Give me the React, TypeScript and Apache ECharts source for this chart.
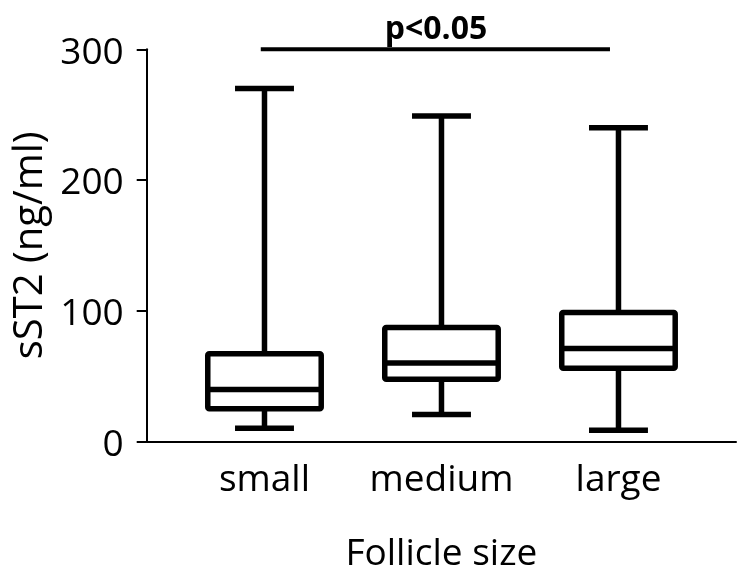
import React, { useEffect, useRef } from "react";
import * as echarts from "echarts";

const categories = ["small", "medium", "large"];
const mins = [10, 20.5, 8.5];
const q1s = [25, 47.5, 56];
const medians = [39.6, 60, 71];
const q3s = [67, 87, 98.5];
const maxs = [270, 249, 240];
const yTicks = [0, 100, 200, 300];
const sigFrom = 0.979;
const sigTo = 2.952;
const sigLevel = 300;
const sigText = "p<0.05";

const FONT = "'Open Sans', 'Noto Sans', sans-serif";

export default function App() {
  const ref = useRef<HTMLDivElement>(null);
  useEffect(() => {
    if (!ref.current) return;
    const chart = echarts.init(ref.current, undefined, { renderer: "svg" });
    const boxData = categories.map((_, i) => [i + 1, mins[i], q1s[i], medians[i], q3s[i], maxs[i]]);
    const BOX_W = 0.641;
    const CAP_W = 0.333;
    const LW = 5.5;
    chart.setOption({
      animation: false,
      textStyle: { fontFamily: FONT, color: "#000" },
      grid: { left: 146.7, right: 10, top: 49.3, bottom: 134.7, containLabel: false, outerBoundsMode: "none" },
      xAxis: {
        type: "value",
        min: 0.3345,
        max: 3.664,
        name: "Follicle size",
        nameLocation: "middle",
        nameGap: 91,
        nameTextStyle: { fontSize: 37, color: "#000", fontFamily: FONT },
        axisLine: { show: true, onZero: false, lineStyle: { color: "#000", width: 2 } },
        axisTick: { show: false },
        splitLine: { show: false },
        axisLabel: {
          customValues: [1, 2, 3],
          formatter: (v: number) => categories[Math.round(v) - 1] ?? "",
          fontSize: 37,
          color: "#000",
          margin: 17,
          fontFamily: FONT,
        },
      },
      yAxis: {
        type: "value",
        min: 0,
        max: 300,
        interval: 100,
        name: "sST2 (ng/ml)",
        nameLocation: "middle",
        nameGap: 100,
        nameTextStyle: { fontSize: 40, color: "#000", fontFamily: FONT },
        axisLine: { show: true, lineStyle: { color: "#000", width: 2 } },
        axisTick: { show: true, length: 10, lineStyle: { color: "#000", width: 2 } },
        splitLine: { show: false },
        axisLabel: {
          customValues: yTicks,
          fontSize: 37,
          color: "#000",
          margin: 23,
          fontFamily: FONT,
        },
      },
      series: [
        {
          type: "custom",
          data: boxData,
          encode: { x: 0, y: [1, 2, 3, 4, 5] },
          clip: false,
          silent: true,
          renderItem: (params: any, api: any) => {
            const x = api.value(0);
            const pMin = api.coord([x, api.value(1)]);
            const pQ1 = api.coord([x, api.value(2)]);
            const pMed = api.coord([x, api.value(3)]);
            const pQ3 = api.coord([x, api.value(4)]);
            const pMax = api.coord([x, api.value(5)]);
            const hb = api.size([BOX_W, 0])[0] / 2;
            const hc = api.size([CAP_W, 0])[0] / 2;
            const st = { stroke: "#000", lineWidth: LW, fill: "none", lineCap: "butt" };
            const cx = pMed[0];
            return {
              type: "group",
              children: [
                { type: "line", shape: { x1: cx, y1: pMax[1], x2: cx, y2: pQ3[1] }, style: st },
                { type: "line", shape: { x1: cx, y1: pQ1[1], x2: cx, y2: pMin[1] }, style: st },
                { type: "line", shape: { x1: cx - hc, y1: pMax[1], x2: cx + hc, y2: pMax[1] }, style: st },
                { type: "line", shape: { x1: cx - hc, y1: pMin[1], x2: cx + hc, y2: pMin[1] }, style: st },
                {
                  type: "rect",
                  shape: { x: cx - hb, y: pQ3[1], width: 2 * hb, height: pQ1[1] - pQ3[1], r: 1.5 },
                  style: { stroke: "#000", lineWidth: LW, fill: "#fff", lineJoin: "round" },
                },
                { type: "line", shape: { x1: cx - hb, y1: pMed[1], x2: cx + hb, y2: pMed[1] }, style: st },
              ],
            };
          },
        },
        {
          type: "line",
          data: [[sigFrom, sigLevel], [sigTo, sigLevel]],
          symbol: "none",
          clip: false,
          silent: true,
          lineStyle: { color: "#000", width: 4, cap: "butt" },
        },
      ],
      graphic: [
        {
          type: "text",
          x: 436,
          y: 26,
          style: {
            text: sigText,
            font: `bold 32px ${FONT}`,
            fill: "#000",
            textAlign: "center",
            textVerticalAlign: "middle",
          },
        },
      ],
    });
    return () => chart.dispose();
  }, []);
  return <div ref={ref} style={{ position: "fixed", left: 0, top: 0, width: 746, height: 576 }} />;
}
